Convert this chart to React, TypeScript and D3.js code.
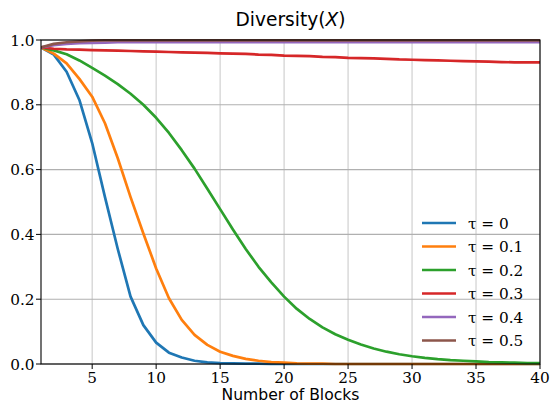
import React from 'react';
import * as d3 from 'd3';

const blocks = d3.range(1, 41);

const tau0 = [0.977, 0.955, 0.902, 0.815, 0.682, 0.515, 0.355, 0.208, 0.12, 0.066, 0.035, 0.02, 0.01, 0.005, 0.003, 0.002, 0.001, 0.001, 0, 0, 0, 0, 0, 0, 0, 0, 0, 0, 0, 0, 0, 0, 0, 0, 0, 0, 0, 0, 0, 0];
const tau1 = [0.977, 0.958, 0.928, 0.88, 0.825, 0.743, 0.635, 0.515, 0.403, 0.295, 0.203, 0.136, 0.09, 0.059, 0.038, 0.025, 0.016, 0.01, 0.006, 0.004, 0.002, 0.001, 0.001, 0, 0, 0, 0, 0, 0, 0, 0, 0, 0, 0, 0, 0, 0, 0, 0, 0];
const tau2 = [0.977, 0.968, 0.956, 0.937, 0.914, 0.89, 0.864, 0.834, 0.8, 0.76, 0.713, 0.66, 0.603, 0.541, 0.478, 0.415, 0.355, 0.3, 0.252, 0.208, 0.17, 0.139, 0.113, 0.092, 0.075, 0.06, 0.048, 0.038, 0.03, 0.024, 0.019, 0.015, 0.012, 0.01, 0.008, 0.006, 0.005, 0.004, 0.003, 0.003];
const tau3 = [0.977, 0.973, 0.971, 0.97, 0.969, 0.968, 0.967, 0.966, 0.965, 0.964, 0.963, 0.962, 0.961, 0.96, 0.959, 0.958, 0.957, 0.955, 0.954, 0.952, 0.951, 0.95, 0.948, 0.947, 0.945, 0.944, 0.943, 0.942, 0.94, 0.939, 0.938, 0.937, 0.936, 0.935, 0.934, 0.933, 0.932, 0.931, 0.931, 0.931];
const tau4 = [0.977, 0.984, 0.988, 0.99, 0.991, 0.992, 0.993, 0.993, 0.993, 0.993, 0.993, 0.993, 0.993, 0.993, 0.993, 0.993, 0.993, 0.993, 0.993, 0.993, 0.993, 0.993, 0.993, 0.993, 0.993, 0.993, 0.993, 0.993, 0.993, 0.993, 0.993, 0.993, 0.993, 0.993, 0.993, 0.993, 0.993, 0.993, 0.993, 0.993];
const tau5 = [0.977, 0.988, 0.993, 0.996, 0.998, 0.999, 0.999, 0.999, 0.999, 0.999, 0.999, 0.999, 0.999, 0.999, 0.999, 0.999, 0.999, 0.999, 0.999, 0.999, 0.999, 0.999, 0.999, 0.999, 0.999, 0.999, 0.999, 0.999, 0.999, 0.999, 0.999, 0.999, 0.999, 0.999, 0.999, 0.999, 0.999, 0.999, 0.999, 0.999];

const seriesNames = ['τ = 0', 'τ = 0.1', 'τ = 0.2', 'τ = 0.3', 'τ = 0.4', 'τ = 0.5'];
const seriesValues = [tau0, tau1, tau2, tau3, tau4, tau5];
const colors = ['#1f77b4', '#ff7f0e', '#2ca02c', '#d62728', '#9467bd', '#8c564b'];

const xTicks = [5, 10, 15, 20, 25, 30, 35, 40];
const yTicks = [0, 0.2, 0.4, 0.6, 0.8, 1.0];

const W = 551;
const H = 403;
const margin = { top: 40, right: 11, bottom: 39, left: 41 };

const serif = { fontFamily: 'DejaVu Serif' };
const sans = { fontFamily: 'DejaVu Sans' };

const App = () => {
  const x = d3.scaleLinear().domain([1, 40]).range([margin.left, W - margin.right]);
  const y = d3.scaleLinear().domain([0, 1]).range([H - margin.bottom, margin.top]);

  const line = d3
    .line<number>()
    .x((d, i) => x(blocks[i]))
    .y((d) => y(d));

  const legendX = 422;
  const legendY = 223;
  const rowH = 23.5;

  return (
    <div style={{ position: 'absolute', left: 0, top: 0 }}>
      <svg width={W} height={H} style={{ display: 'block', background: '#fff' }}>
        <defs>
          <clipPath id="plot">
            <rect x={margin.left} y={margin.top - 3} width={W - margin.left - margin.right} height={H - margin.top - margin.bottom + 6} />
          </clipPath>
        </defs>

        {/* grid */}
        {xTicks.map((t) => (
          <line key={'gx' + t} x1={x(t)} x2={x(t)} y1={y(0)} y2={y(1)} stroke="#d0d0d0" strokeWidth={1.2} />
        ))}
        {yTicks.map((t) => (
          <line key={'gy' + t} x1={x(1)} x2={x(40)} y1={y(t)} y2={y(t)} stroke="#b0b0b0" strokeWidth={1.1} />
        ))}

        {/* series */}
        <g clipPath="url(#plot)">
          {seriesValues.map((vals, i) => (
            <path key={i} d={line(vals) || ''} fill="none" stroke={colors[i]} strokeWidth={2.7} strokeLinejoin="round" />
          ))}
        </g>

        {/* frame */}
        <rect x={x(1)} y={y(1)} width={x(40) - x(1)} height={y(0) - y(1)} fill="none" stroke="#000" strokeWidth={1.1} />

        {/* x ticks */}
        {xTicks.map((t) => (
          <g key={'xt' + t}>
            <line x1={x(t)} x2={x(t)} y1={y(0)} y2={y(0) + 5} stroke="#000" strokeWidth={1} />
            <text x={x(t)} y={383} textAnchor="middle" fontSize={15.3} fill="#000" style={serif}>
              {t}
            </text>
          </g>
        ))}

        {/* y ticks */}
        {yTicks.map((t) => (
          <g key={'yt' + t}>
            <line x1={x(1) - 5} x2={x(1)} y1={y(t)} y2={y(t)} stroke="#000" strokeWidth={1} />
            <text x={34.5} y={y(t) + 5.5} textAnchor="end" fontSize={15.3} fill="#000" style={serif}>
              {d3.format('.1f')(t)}
            </text>
          </g>
        ))}

        {/* title */}
        <text x={(x(1) + x(40)) / 2} y={26} textAnchor="middle" fontSize={18.6} fill="#000" style={sans}>
          Diversity(<tspan fontStyle="italic">X</tspan>)
        </text>

        {/* x label */}
        <text x={(x(1) + x(40)) / 2} y={400} textAnchor="middle" fontSize={15.6} fill="#000" style={sans}>
          Number of Blocks
        </text>

        {/* legend */}
        {seriesNames.map((name, i) => (
          <g key={name}>
            <line x1={legendX} x2={legendX + 34} y1={legendY + i * rowH} y2={legendY + i * rowH} stroke={colors[i]} strokeWidth={2.7} />
            <text x={legendX + 46} y={legendY + i * rowH + 5.5} fontSize={15.3} fill="#000" style={serif}>
              {name}
            </text>
          </g>
        ))}
      </svg>
    </div>
  );
};

export default App;
